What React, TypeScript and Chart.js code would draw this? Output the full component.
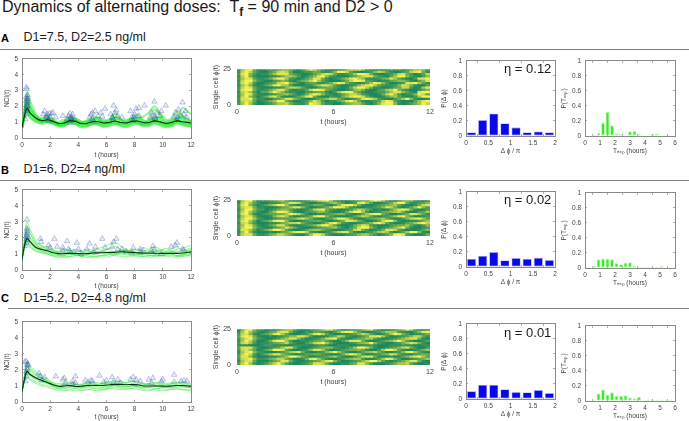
import React, { useEffect, useRef } from "react";
import { Chart, registerables } from "chart.js";

Chart.register(...registerables);

const FONT = "'Liberation Sans', Arial, sans-serif";

// ---------- time base of single-cell traces ----------
const T = [0, .15, .35, .6, 1, 1.4, 1.8, 2.2, 2.6, 3, 3.4, 3.8, 4.2, 4.6, 5, 5.4, 5.8, 6.2, 6.6, 7, 7.4, 7.8, 8.2, 8.6, 9, 9.4, 9.8, 10.2, 10.6, 11, 11.4, 12];

// ---------- panel A traces ----------
const meanA = [.65, 1.3, 1.85, 1.55, 1.25, 1.1, 1.15, 1.05, .92, .95, 1.08, 1.05, .92, .92, 1.03, 1.03, .95, .98, 1.07, .98, .95, 1.05, 1.07, .98, .98, 1.08, 1.02, .93, .98, 1.08, 1.03, .95];
const tracesA = [
  [.65, 1.5, 2.9, 2.3, 1.5, 1.2, 1.3, 1.0, .85, 1.0, 1.3, 1.1, .9, .95, 1.2, 1.2, .9, 1.0, 1.3, 1.0, .9, 1.2, 1.3, 1.0, .95, 1.4, 1.2, .9, 1.0, 1.4, 1.2, .9],
  [.65, 1.4, 2.4, 1.9, 1.4, 1.25, 1.4, 1.2, .95, .9, 1.2, 1.25, 1.0, .85, 1.1, 1.3, 1.05, .9, 1.2, 1.15, .95, 1.0, 1.25, 1.15, .9, 1.2, 1.3, 1.0, .9, 1.2, 1.3, 1.05],
  [.65, 1.3, 2.0, 1.6, 1.2, 1.0, 1.1, 1.0, .8, .8, 1.0, .95, .8, .75, .95, .9, .8, .8, 1.0, .85, .8, .9, 1.0, .85, .8, 1.0, .9, .8, .8, 1.0, .9, .8],
  [.65, 1.2, 1.6, 1.3, 1.05, .9, .95, .9, .75, .8, .95, .85, .72, .8, .9, .85, .75, .85, .95, .8, .72, .9, .95, .8, .85, .95, .85, .72, .82, .95, .85, .75],
  [.65, 1.3, 1.8, 1.5, 1.3, 1.15, 1.05, .95, 1.0, 1.15, 1.0, .88, .95, 1.1, 1.0, .88, 1.0, 1.2, 1.05, .9, 1.05, 1.25, 1.0, .9, 1.1, 1.25, 1.0, .9, 1.1, 1.2, .95, 1.1],
  [.65, 1.25, 1.5, 1.25, 1.0, .95, 1.2, 1.1, .85, .85, 1.05, 1.2, 1.05, .85, .85, 1.1, 1.15, .95, .85, 1.0, 1.15, 1.1, .9, .85, 1.05, 1.15, 1.1, .88, .85, 1.05, 1.15, .85],
  [.65, 1.35, 2.2, 1.8, 1.35, 1.1, 1.05, .95, .9, 1.05, 1.35, 1.15, .95, 1.0, 1.35, 1.25, .95, 1.1, 1.55, 1.2, 1.0, 1.25, 1.5, 1.1, 1.15, 1.8, 1.45, 1.05, 1.25, 1.65, 1.4, 1.05],
  [.65, 1.3, 1.95, 1.6, 1.2, 1.05, 1.0, .9, .75, .75, .95, .9, .7, .7, .9, .85, .7, .75, .9, .75, .7, .8, .9, .75, .75, .9, .8, .68, .72, .9, .8, .7],
  [.65, 1.4, 2.6, 2.0, 1.25, 1.1, 1.25, 1.1, .9, .95, 1.15, 1.05, .98, 1.05, 1.2, 1.1, 1.0, 1.1, 1.35, 1.15, 1.0, 1.1, 1.15, 1.35, 1.6, 2.0, 1.6, 1.2, 1.05, 1.1, 1.9, 1.5],
  [.65, 1.2, 1.7, 1.4, 1.1, 1.0, 1.1, 1.0, .88, .98, 1.1, .98, .88, .98, 1.1, .98, .88, .98, 1.1, .95, .88, 1.0, 1.1, .95, .92, 1.08, .95, .85, .95, 1.1, .95, .9],
];
const triXA = [.25, .3, .3, .3, .35, .35, .35, .4, .4, .3, .4, .3, .35, .35, .3, .35, .4, 1.5, 1.6, 1.7, 1.8, 1.85, 1.9, 2, 2.1, 2.2, 1.95, 1.8, 2.4, 2.9, 3.2, 3.3, 3.4, 3.5, 3.5, 3.6, 3.7, 3.4, 3.45, 3.55, 4.8, 4.9, 5, 5, 5.1, 5.2, 5.4, 5.6, 5.7, 5.9, 6.3, 6.4, 6.5, 6.5, 6.6, 6.7, 6.8, 6.45, 7.1, 7.7, 7.8, 7.9, 8, 8.1, 8, 8.3, 8.3, 7.95, 8.7, 9.1, 9.2, 9.4, 9.4, 9.5, 9.6, 9.8, 9.45, 9.9, 10.2, 10.8, 10.9, 11, 11.1, 11.3, 11.4, 11.5, 11.7, 11.6, 11.05];
const triYA = [1.2, 1.5, 1.7, 1.9, 2.0, 2.1, 2.2, 2.3, 2.5, 2.6, 2.7, 3.2, 3.1, 1.8, 2.35, 2.45, 2.0, 1.5, 1.7, 1.35, 1.5, 1.2, 1.1, 1.3, 1.55, 1.6, 1.55, 1.35, 1.3, 1.4, 1.2, 1.4, 1.55, 1.3, 1.1, 1.5, 1.2, .95, 1.25, 1.2, 1.3, 1.5, 1.6, 1.2, 1.05, 1.7, 1.4, 1.6, 1.35, 1.85, 1.5, 1.3, 2.05, 1.15, 1.6, 1.75, 1.4, 1.25, 1.3, 1.7, 1.3, 1.1, 1.5, 1.85, 1.2, 1.9, 1.4, 1.35, 2.05, 1.3, 1.6, 2.3, 1.4, 1.15, 1.6, 1.4, 1.25, 1.7, 2.05, 1.3, 1.6, 1.15, 1.8, 1.4, 2.25, 1.5, 1.3, 1.7, 1.3];

// ---------- panel B traces ----------
const meanB = [.65, 1.4, 1.95, 1.75, 1.4, 1.28, 1.2, 1.08, 1.02, 1.02, 1.04, 1.03, 1.02, 1.02, 1.06, 1.07, 1.08, 1.1, 1.1, 1.14, 1.12, 1.1, 1.08, 1.06, 1.05, 1.05, 1.04, 1.04, 1.04, 1.04, 1.06, 1.13];
const tracesB = [
  [.65, 1.6, 3.0, 2.5, 1.8, 1.5, 1.4, 1.2, 1.1, 1.15, 1.0, .95, 1.05, 1.2, 1.1, 1.0, 1.2, 1.3, 1.1, 1.0, 1.1, 1.2, 1.05, 1.0, 1.1, 1.3, 1.15, 1.0, 1.1, 1.2, 1.05, 1.3],
  [.65, 1.5, 2.5, 2.2, 1.7, 1.5, 1.3, 1.15, .95, .9, 1.0, 1.1, 1.15, 1.0, .95, 1.05, 1.15, 1.05, .95, 1.1, 1.2, 1.05, .95, 1.0, 1.1, 1.0, .9, 1.0, 1.15, 1.05, .95, 1.2],
  [.65, 1.3, 1.8, 1.6, 1.3, 1.2, 1.1, 1.0, .9, .85, .85, .9, .85, .8, .85, .9, .9, .85, .95, 1.0, .95, .9, .85, .85, .9, .9, .85, .9, .95, .9, .85, .95],
  [.65, 1.3, 1.6, 1.4, 1.15, 1.05, 1.0, .9, .85, .9, 1.0, .95, .85, .8, .75, .85, .95, 1.0, 1.0, 1.1, 1.0, .95, 1.0, 1.05, .95, .9, 1.0, 1.1, 1.0, .9, .95, 1.0],
  [.65, 1.4, 2.1, 1.9, 1.5, 1.35, 1.3, 1.25, 1.15, 1.2, 1.25, 1.15, 1.2, 1.3, 1.25, 1.15, 1.2, 1.35, 1.45, 1.3, 1.2, 1.25, 1.3, 1.2, 1.15, 1.2, 1.25, 1.2, 1.15, 1.3, 1.35, 1.55],
  [.65, 1.35, 1.9, 1.65, 1.35, 1.15, 1.05, .95, .95, 1.05, 1.1, 1.0, .9, .95, 1.1, 1.15, 1.05, 1.0, 1.05, 1.2, 1.25, 1.15, 1.05, .95, .9, .95, 1.05, 1.0, .9, .85, .95, 1.05],
  [.65, 1.45, 2.3, 2.0, 1.6, 1.4, 1.45, 1.3, 1.05, 1.0, 1.15, 1.3, 1.2, 1.05, 1.15, 1.35, 1.45, 1.6, 1.75, 1.5, 1.3, 1.15, 1.25, 1.4, 1.3, 1.45, 1.3, 1.15, 1.3, 1.45, 1.25, 1.35],
  [.65, 1.25, 1.7, 1.45, 1.2, 1.1, 1.0, .85, .8, .78, .82, .9, .95, .9, .85, .82, .88, .95, .9, .85, .82, .88, .92, .85, .8, .85, .92, .88, .82, .8, .88, .9],
  [.65, 1.5, 2.7, 2.3, 1.6, 1.3, 1.15, 1.1, 1.2, 1.3, 1.2, 1.05, 1.0, 1.1, 1.2, 1.3, 1.15, 1.05, 1.15, 1.25, 1.1, 1.0, 1.1, 1.15, 1.25, 1.1, 1.2, 1.35, 1.2, 1.1, 1.2, 1.2],
];
const triXB = [.25, .3, .3, .3, .35, .35, .35, .35, .4, .4, .35, 1.3, 1.35, 1.9, 2, 2.3, 2.5, 2.9, 2.9, 3.2, 3.3, 3.4, 3.7, 3.9, 4, 4.2, 4.6, 4.8, 5.1, 5.2, 5.7, 5.9, 6.4, 6.5, 6.7, 6.8, 7.1, 7.4, 7.8, 7.9, 8.4, 8.4, 8.6, 9.2, 9.3, 9.4, 9.9, 10.6, 10.9, 11, 11.4, 11.5];
const triYB = [1.5, 1.7, 1.9, 2.1, 2.2, 2.3, 2.45, 2.6, 2.05, 1.85, 3.15, 1.95, 1.75, 1.55, 1.4, 1.95, 1.45, 1.4, 1.2, 1.8, 1.3, 1.2, 1.1, 1.7, 1.3, 1.0, 1.3, 1.65, 1.1, 1.45, 1.95, 1.4, 1.45, 1.75, 1.95, 1.3, 1.3, 1.15, 1.1, 1.4, 1.1, 1.3, 1.2, 1.2, 1.5, 1.25, 1.0, 1.45, 1.55, 1.7, 1.3, 1.25];

// ---------- panel C traces ----------
const meanC = [.65, 1.3, 1.9, 1.7, 1.5, 1.35, 1.22, 1.08, .98, 1.0, 1.02, .97, .98, 1.03, 1.05, 1.03, 1.03, 1.08, 1.1, 1.1, 1.08, 1.1, 1.08, 1.0, 1.0, 1.0, 1.0, .98, 1.0, 1.03, 1.03, .98];
const tracesC = [
  [.65, 1.5, 2.5, 2.2, 1.9, 1.65, 1.45, 1.2, 1.05, 1.1, 1.15, 1.05, 1.1, 1.2, 1.15, 1.1, 1.2, 1.25, 1.2, 1.15, 1.2, 1.3, 1.2, 1.1, 1.15, 1.2, 1.1, 1.05, 1.15, 1.2, 1.1, 1.05],
  [.65, 1.4, 2.2, 2.0, 1.7, 1.5, 1.3, 1.1, .95, .9, .95, 1.0, .9, .95, 1.0, 1.05, .95, 1.0, 1.05, 1.0, .95, 1.05, 1.0, .9, .95, 1.05, .95, .9, 1.0, 1.05, .95, .9],
  [.65, 1.2, 1.6, 1.45, 1.25, 1.1, 1.0, .9, .8, .75, .8, .85, .75, .75, .85, .8, .75, .85, .9, .85, .8, .85, .9, .8, .75, .8, .85, .78, .8, .85, .8, .75],
  [.65, 1.25, 1.75, 1.6, 1.4, 1.25, 1.15, 1.0, .85, .95, 1.05, .95, .85, .9, 1.0, .95, .85, .95, 1.05, 1.0, .95, 1.0, 1.1, 1.0, .9, .95, 1.0, .9, .9, 1.0, 1.05, .9],
  [.65, 1.35, 2.0, 1.85, 1.65, 1.5, 1.35, 1.2, 1.15, 1.2, 1.25, 1.15, 1.1, 1.2, 1.25, 1.2, 1.15, 1.25, 1.3, 1.25, 1.2, 1.25, 1.3, 1.15, 1.15, 1.2, 1.25, 1.15, 1.2, 1.25, 1.2, 1.15],
  [.65, 1.2, 1.5, 1.35, 1.15, 1.0, .92, .82, .72, .7, .75, .7, .72, .8, .75, .7, .78, .85, .8, .78, .82, .85, .8, .72, .7, .75, .72, .7, .78, .8, .75, .72],
  [.65, 1.3, 1.85, 1.75, 1.55, 1.45, 1.3, 1.05, .95, 1.05, 1.15, 1.1, 1.0, 1.05, 1.2, 1.1, 1.05, 1.15, 1.2, 1.3, 1.15, 1.05, 1.1, 1.15, 1.05, 1.1, 1.15, 1.1, 1.0, 1.1, 1.2, 1.05],
  [.65, 1.3, 1.95, 1.7, 1.45, 1.3, 1.15, 1.0, .88, .85, .9, .88, .92, .95, .9, .85, .92, 1.0, .98, .92, .95, 1.0, .95, .88, .9, .85, .9, .92, .88, .92, .95, .88],
  [.65, 1.45, 2.35, 2.05, 1.8, 1.55, 1.25, 1.1, 1.0, 1.15, 1.05, .95, 1.05, 1.1, 1.05, 1.0, 1.1, 1.15, 1.05, 1.0, 1.1, 1.05, .98, 1.05, 1.1, 1.0, 1.05, 1.0, 1.1, 1.0, .98, 1.05],
];
const triXC = [.2, .25, .3, .3, .3, .35, .35, .35, .4, .4, .45, 1.2, 1.3, 1.6, 1.4, 2.4, 2.9, 3, 3.1, 3.6, 3.6, 3.8, 3.8, 4.5, 4.7, 4.9, 5, 5.5, 5.8, 6, 6.4, 6.5, 6.8, 7, 7.7, 7.9, 8, 8.1, 8.4, 9, 9.3, 9.2, 9.9, 10, 10.8, 10.8, 11.3, 11.5, 11.7];
const triYC = [2.5, 1.3, 1.6, 1.9, 2.55, 2.1, 2.3, 1.8, 2.4, 2.0, 2.3, 1.8, 1.6, 1.55, 1.35, 1.6, 1.4, 1.5, 1.2, 1.3, 1.1, 1.6, 1.2, 1.35, 1.25, 1.35, 1.3, 1.65, 1.25, 1.35, 1.55, 1.25, 1.4, 1.2, 1.4, 1.55, 1.1, 1.4, 1.3, 1.4, 1.5, 1.2, 1.3, 1.4, 1.7, 1.25, 1.3, 1.35, 1.3];

// ---------- phase maps, one string per streak row (top row first), 0.25 h per digit ----------
const heatA = [
  "168941 123345 542136 975311 112577 863211 123231 246652",
  "179731 002478 730012 243112 599731 001257 631002 378941",
  "289520 113688 842100 135787 411236 998410 012478 420137",
  "179410 001124 665201 358952 100023 578842 103699 521025",
  "268831 124799 621013 588410 124689 751112 458631 002889",
  "179952 100235 410245 796310 002479 983210 113455 310358",
  "289720 012378 953102 331124 798421 013698 520012 889631",
  "168510 135896 620001 146886 310012 578963 211258 741003",
  "279831 000112 577631 002344 210147 997411 001347 720168",
  "289941 124688 510113 799842 100125 641002 367952 100135",
  "178620 336975 211002 234410 268995 310012 246885 310899",
  "269831 001245 642014 798521 013577 521001 479620 125973",
  "179520 247851 001358 941002 114689 973100 135631 002699",
  "288941 100235 885310 013457 742012 489862 100246 951001",
  "178730 124699 420012 586201 135897 410123 798310 003689",
  "269620 012466 742113 987311 002456 631025 899510 124697",
];
const heatB = [
  "068941 223456 310012 457896 210012 344798 631024 552101",
  "179631 001124 588731 001235 642012 896300 124799 411235",
  "289520 135799 621012 244310 258997 410012 345631 001478",
  "278841 100013 468852 001246 998521 001123 587410 136952",
  "169952 201245 531001 378942 100125 764201 003689 841002",
  "279631 003699 841002 235531 001479 962011 345674 100236",
  "289510 123344 698741 001123 455210 136899 420012 488631",
  "168841 001578 620012 489952 100013 576310 124689 520012",
  "279962 100122 345786 410023 699741 002345 631002 578963",
  "289630 235899 510012 334210 124887 420013 799510 011246",
  "178520 001124 577842 100258 962100 123589 731001 346897",
  "269841 013588 410012 357996 310014 687210 002344 631025",
  "279952 100235 864100 012345 631024 899520 123579 410012",
  "188630 246997 310013 566421 001237 842012 488731 000135",
  "169510 001013 468997 210012 578841 001246 762013 699510",
  "278841 124577 531002 699731 000123 566420 135998 210014",
];
const heatC = [
  "058952 201124 563100 234688 520012 357842 001246 973101",
  "169631 013478 841002 133210 258996 310012 466621 002589",
  "278510 235896 310012 589731 001123 576310 136984 201124",
  "389841 001012 355886 200013 476210 124889 620012 357731",
  "268952 100124 688520 012478 931002 346631 001235 788410",
  "169730 014899 620011 234531 002588 841001 245796 310013",
  "278620 112345 731002 478963 100012 456952 100124 687410",
  "111000 122111 001111 012210 011100 111210 001112 110011",
  "388841 001236 884100 123455 210136 997410 012357 842002",
  "278630 135998 310012 588620 012344 531002 699731 001246",
  "168952 100012 467841 001257 963100 135674 200125 896310",
  "279720 246885 310013 344210 014798 620012 458731 002344",
  "388510 001124 699742 001235 631002 478841 001013 578963",
  "278951 124577 420014 896310 012456 620013 698520 012346",
  "168830 002358 841001 234689 520012 357996 310124 688410",
  "279620 135796 310012 488741 001134 885200 012466 731001",
];

// ---------- histogram values ----------
const phaseBins = [.125, .375, .625, .875, 1.125, 1.375, 1.625, 1.875];
const phaseA = [.05, .215, .30, .17, .115, .05, .06, .05];
const phaseB = [.11, .15, .20, .09, .12, .11, .125, .095];
const phaseC = [.105, .19, .19, .13, .095, .09, .12, .08];

const expBins = [.6, .9, 1.2, 1.5, 1.8, 2.1, 2.4, 2.7, 3, 3.3, 3.6, 3.9, 4.2, 4.5, 4.8, 5.1, 5.4, 5.7];
const expA = [.015, .04, .175, .32, .14, .035, .03, .01, .06, .065, .025, .005, .005, .03, .03, .003, 0, 0];
const expB = [.03, .115, .125, .125, .115, .065, .05, .07, .075, .03, .02, .015, .015, .015, .015, .025, 0, 0];
const expC = [.02, .1, .15, .085, .115, .07, .07, .075, .045, .035, .055, .005, .012, .015, .02, .015, .02, .015];

const etaLabels = ["η = 0.12", "η = 0.02", "η = 0.01"];
const doseLabels = ["D1=7.5, D2=2.5 ng/ml", "D1=6, D2=4 ng/ml", "D1=5.2, D2=4.8 ng/ml"];
const rowLetters = ["A", "B", "C"];

// ---------- layout ----------
type Rect = { l: number; t: number; r: number; b: number; L: number; B: number };
const lineRects: Rect[] = [
  { l: 22, t: 55, r: 191, b: 138, L: 19, B: 21 },
  { l: 22, t: 186, r: 191, b: 270, L: 19, B: 20 },
  { l: 22, t: 318, r: 191, b: 402, L: 19, B: 19 },
];
const heatRects: Rect[] = [
  { l: 237, t: 65, r: 430, b: 105, L: 25, B: 21 },
  { l: 237, t: 196, r: 430, b: 236, L: 25, B: 21 },
  { l: 237, t: 325, r: 430, b: 365, L: 25, B: 21 },
];
const phaseRects: Rect[] = [
  { l: 466, t: 57, r: 555, b: 136, L: 26, B: 19 },
  { l: 466, t: 188, r: 555, b: 267, L: 26, B: 19 },
  { l: 466, t: 320, r: 555, b: 399, L: 26, B: 19 },
];
const expRects: Rect[] = [
  { l: 585, t: 57, r: 675, b: 136, L: 25, B: 19 },
  { l: 585, t: 189, r: 675, b: 268, L: 25, B: 19 },
  { l: 585, t: 322, r: 675, b: 401, L: 25, B: 19 },
];
const PAD_T = 6;
const PAD_R = 9;

const AXIS_COLOR = "#8a8a8a";
const TEXT_COLOR = "#444";

const lineStyles = [
  { width: 2.2, color: "rgba(35,232,45,0.45)" },
  { width: 1.1, color: "rgba(35,232,45,0.42)" },
  { width: 1.1, color: "rgba(35,232,45,0.42)" },
];

function fixedX(h: number) {
  return (s: any) => { s.height = h; };
}
function fixedY(w: number) {
  return (s: any) => { s.width = w; };
}
const plainTick = (v: any) => String(Number(Number(v).toFixed(2)));

function frameScales(rect: Rect, xo: any, yo: any, xTitle: string, yTitle: string, fs = 6.5) {
  const font = { family: FONT, size: fs };
  const grid = { drawOnChartArea: false, tickLength: -2, color: AXIS_COLOR, lineWidth: 0.7 };
  const border = { color: AXIS_COLOR, width: 1 };
  return {
    x: {
      type: "linear", offset: false, min: xo.min, max: xo.max, grid, border,
      ticks: { stepSize: xo.step, font, color: TEXT_COLOR, padding: 5, maxRotation: 0, callback: plainTick },
      title: { display: true, text: xTitle, font, color: TEXT_COLOR, padding: 0 },
      afterFit: fixedX(rect.B),
    },
    y: {
      type: "linear", min: yo.min, max: yo.max, grid, border,
      ticks: { stepSize: yo.step, font, color: TEXT_COLOR, padding: 6, callback: plainTick },
      title: { display: true, text: yTitle, font, color: TEXT_COLOR, padding: 0 },
      afterFit: fixedY(rect.L),
    },
    x2: {
      type: "linear", position: "top", offset: false, min: xo.min, max: xo.max, grid, border,
      ticks: { stepSize: xo.step, display: false },
      afterFit: fixedX(0),
    },
    y2: {
      type: "linear", position: "right", min: yo.min, max: yo.max, grid, border,
      ticks: { stepSize: yo.step, display: false },
      afterFit: fixedY(0),
    },
  };
}

const baseOptions = {
  responsive: false,
  animation: false,
  events: [],
  layout: { autoPadding: false, padding: { left: 0, top: PAD_T, right: PAD_R, bottom: 0 } },
  plugins: { legend: { display: false }, tooltip: { enabled: false }, title: { display: false } },
};

function zip(xs: number[], ys: number[]) {
  return xs.map((x, i) => ({ x, y: ys[i] }));
}

function lineConfig(rect: Rect, traces: number[][], mean: number[], tx: number[], ty: number[], style: any) {
  return {
    type: "scatter",
    data: {
      datasets: [
        ...traces.map((t) => ({
          type: "line", data: zip(T, t), borderColor: style.color, borderWidth: style.width,
          pointRadius: 0, tension: 0.35, order: 3,
        })),
        {
          type: "scatter", data: zip(tx, ty), pointStyle: "triangle", pointRadius: 3.2,
          backgroundColor: "rgba(40,80,170,0.10)", borderColor: "rgba(30,70,165,0.48)", borderWidth: 0.6, order: 2,
        },
        {
          type: "line", data: zip(T, mean), borderColor: "#06300f", borderWidth: 1.1,
          pointRadius: 0, tension: 0.35, order: 1,
        },
      ],
    },
    options: {
      ...baseOptions,
      scales: frameScales(rect, { min: 0, max: 12, step: 2 }, { min: 0, max: 5, step: 1 }, "t (hours)", "NCI(t)"),
    },
  };
}

function heatColor(d: number) {
  const v = d / 9;
  const a = [28, 136, 96], m = [125, 178, 78], b = [246, 242, 84];
  const [p, q, f] = v < 0.5 ? [a, m, v * 2] : [m, b, (v - 0.5) * 2];
  return `rgb(${(p as number[]).map((c, i) => Math.round(c + ((q as number[])[i] - c) * (f as number))).join(",")})`;
}

function heatConfig(rect: Rect, rows: string[]) {
  const cells: any[] = [];
  const colors: string[] = [];
  const rowSpan = 25 / rows.length;
  rows.forEach((row, r) => {
    row.replace(/ /g, "").split("").forEach((ch, c) => {
      cells.push({ x: [c * 0.25, (c + 1) * 0.25], y: 25 - (r + 0.5) * rowSpan });
      colors.push(heatColor(Number(ch)));
    });
  });
  const font = { family: FONT, size: 7 };
  return {
    type: "bar",
    data: {
      datasets: [{ data: cells, backgroundColor: colors, borderWidth: 0, inflateAmount: 0.6, barPercentage: 1, categoryPercentage: 1 }],
    },
    options: {
      ...baseOptions,
      indexAxis: "y",
      scales: {
        x: {
          type: "linear", min: 0, max: 12, offset: false,
          grid: { display: false, drawTicks: false }, border: { display: false },
          ticks: { stepSize: 6, font, color: TEXT_COLOR, padding: 3, maxRotation: 0 },
          title: { display: true, text: "t (hours)", font, color: TEXT_COLOR, padding: 0 },
          afterFit: fixedX(rect.B),
        },
        y: {
          type: "linear", min: 0, max: 25, offset: false,
          grid: { display: false, drawTicks: false }, border: { display: false },
          ticks: { stepSize: 25, font, color: TEXT_COLOR, padding: 6 },
          title: { display: true, text: "Single cell ϕ(t)", font, color: TEXT_COLOR, padding: 0 },
          afterFit: fixedY(rect.L),
        },
      },
    },
  };
}

function barConfig(rect: Rect, xs: number[], ys: number[], xMax: number, xStep: number, color: string, edge: string, pct: number, xTitle: string, yTitle: string) {
  return {
    type: "bar",
    data: {
      datasets: [{
        data: zip(xs, ys), backgroundColor: color, borderColor: edge, borderWidth: 0.8,
        barPercentage: pct, categoryPercentage: 1, borderSkipped: false,
      }],
    },
    options: {
      ...baseOptions,
      scales: frameScales(rect, { min: 0, max: xMax, step: xStep }, { min: 0, max: 1, step: 0.2 }, xTitle, yTitle),
    },
  };
}

function Panel({ rect, config, blur }: { rect: Rect; config: any; blur?: number }) {
  const ref = useRef<HTMLCanvasElement>(null);
  useEffect(() => {
    const chart = new Chart(ref.current as HTMLCanvasElement, config);
    return () => chart.destroy();
  }, []);
  const width = rect.r - rect.l + rect.L + PAD_R;
  const height = rect.b - rect.t + PAD_T + rect.B;
  return (
    <canvas
      ref={ref}
      width={width}
      height={height}
      style={{
        position: "absolute", left: rect.l - rect.L, top: rect.t - PAD_T, width, height,
        filter: blur ? `blur(${blur}px)` : undefined,
      }}
    />
  );
}

const abs = (left: number, top: number, extra: any = {}): any => ({
  position: "absolute", left, top, whiteSpace: "pre", fontFamily: FONT, color: "#1a1a1a", lineHeight: 1, ...extra,
});

const letterTops = [33, 165, 293];
const doseTops = [31, 163, 292];
const ruleTops = [49, 180, 308];
const ruleLefts = [0, 0, 8];
const etaTops = [62, 193, 326];

export default function App() {
  const lines = [
    lineConfig(lineRects[0], tracesA, meanA, triXA, triYA, lineStyles[0]),
    lineConfig(lineRects[1], tracesB, meanB, triXB, triYB, lineStyles[1]),
    lineConfig(lineRects[2], tracesC, meanC, triXC, triYC, lineStyles[2]),
  ];
  const heats = [heatA, heatB, heatC].map((h, i) => heatConfig(heatRects[i], h));
  const phases = [phaseA, phaseB, phaseC].map((p, i) =>
    barConfig(phaseRects[i], phaseBins, p, 2, 0.5, "#0808e8", "rgba(130,130,255,0.5)", 0.84, "Δ ϕ / π", "P(Δ ϕ)"));
  const exps = [expA, expB, expC].map((p, i) =>
    barConfig(expRects[i], expBins, p, 6, 1, "#35ec25", "rgba(140,250,130,0.6)", 0.85, "Tₑₓₚ (hours)", "P(Tₑₓₚ)"));

  return (
    <div style={{ position: "absolute", left: 0, top: 0, width: 689, height: 421, overflow: "hidden", background: "#fff" }}>
      <div style={abs(2, -1, { fontSize: 16 })}>
        Dynamics of alternating doses:{"  "}T<sub style={{ fontSize: 12, lineHeight: 0, fontWeight: 700 }}>f</sub> = 90 min and D2 &gt; 0
      </div>
      {rowLetters.map((l, i) => (
        <React.Fragment key={l}>
          <div style={abs(1, letterTops[i], { fontSize: 11, fontWeight: 700, color: "#000" })}>{l}</div>
          <div style={abs(23.5, doseTops[i], { fontSize: 12.5 })}>{doseLabels[i]}</div>
          <div style={{ position: "absolute", left: ruleLefts[i], top: ruleTops[i], width: 689 - ruleLefts[i], height: 1, background: "#808080" }} />
          <Panel rect={lineRects[i]} config={lines[i]} />
          <Panel rect={heatRects[i]} config={heats[i]} blur={0.45} />
          <Panel rect={phaseRects[i]} config={phases[i]} />
          <Panel rect={expRects[i]} config={exps[i]} />
          <div style={abs(504, etaTops[i], { fontSize: 13 })}>{etaLabels[i]}</div>
        </React.Fragment>
      ))}
    </div>
  );
}
